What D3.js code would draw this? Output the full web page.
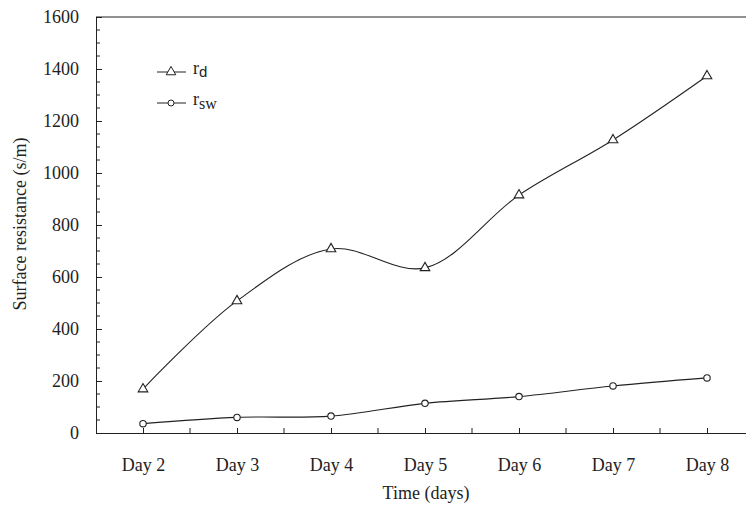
<!DOCTYPE html>
<html><head><meta charset="utf-8">
<script src="https://cdn.jsdelivr.net/npm/d3@7"></script>
<style>body{margin:0;background:#fff}svg{display:block}text{font-family:"Liberation Serif","Times New Roman",serif;fill:#222}</style>
</head><body><svg id="c" width="746" height="505"></svg>
<script>
const days = ["Day 2","Day 3","Day 4","Day 5","Day 6","Day 7","Day 8"];
const rd = [169, 508, 708, 635, 915, 1127, 1373];
const rsw = [36, 60, 65, 114, 140, 181, 212];
const yTicks = [0,200,400,600,800,1000,1200,1400,1600];

const svg = d3.select("#c");
const L=96, R=754, T=17, B=433;
const x = d3.scalePoint().domain(days).range([L,R]).padding(0.5);
const y = d3.scaleLinear().domain([0,1600]).range([B,T]);
const ink="#222";

svg.append("line").attr("x1",L).attr("x2",R).attr("y1",T).attr("y2",T).attr("stroke",ink).attr("stroke-width",1);
const ya = svg.append("g").attr("transform",`translate(${L},0)`)
  .call(d3.axisLeft(y).tickValues(yTicks).tickFormat(d3.format("d")).tickSize(-6).tickPadding(17));
ya.select(".domain").attr("stroke",ink);
ya.selectAll(".tick line").attr("stroke",ink);
ya.selectAll("text").style("font-size","18px").attr("fill",ink);
const minorY = d3.range(50,1600,50).filter(v=>v%200!==0);
svg.append("g").selectAll("line").data(minorY).join("line")
  .attr("x1",L).attr("x2",L+4).attr("y1",d=>y(d)).attr("y2",d=>y(d)).attr("stroke",ink);
const xa = svg.append("g").attr("transform",`translate(0,${B})`)
  .call(d3.axisBottom(x).tickSize(-5).tickPadding(25).tickSizeOuter(0));
xa.select(".domain").attr("stroke",ink);
xa.selectAll(".tick line").attr("stroke",ink);
xa.selectAll("text").style("font-size","18px").attr("fill",ink);
const step = x.step();
svg.append("g").selectAll("line").data(days.slice(0,-1)).join("line")
  .attr("x1",d=>x(d)+step/2).attr("x2",d=>x(d)+step/2).attr("y1",B).attr("y2",B-5).attr("stroke",ink);

svg.append("text").attr("x",426).attr("y",499).attr("text-anchor","middle").style("font-size","18px").text("Time (days)");
svg.append("text").attr("transform","translate(26,224) rotate(-90)").attr("text-anchor","middle").style("font-size","18px").text("Surface resistance (s/m)");

const line = d3.line().x((d,i)=>x(days[i])).y(d=>y(d)).curve(d3.curveCatmullRom.alpha(0.5));
svg.append("path").attr("d",line(rd)).attr("fill","none").attr("stroke",ink).attr("stroke-width",1.1);
svg.append("path").attr("d",line(rsw)).attr("fill","none").attr("stroke",ink).attr("stroke-width",1.1);

const tri = d3.symbol().type(d3.symbolTriangle).size(40);
svg.append("g").selectAll("path").data(rd).join("path")
  .attr("d",tri).attr("transform",(d,i)=>`translate(${x(days[i])},${y(d)})`)
  .attr("fill","#fff").attr("stroke",ink).attr("stroke-width",1.1);
svg.append("g").selectAll("circle").data(rsw).join("circle")
  .attr("cx",(d,i)=>x(days[i])).attr("cy",d=>y(d)).attr("r",3.2)
  .attr("fill","#fff").attr("stroke",ink).attr("stroke-width",1.1);

const lg = svg.append("g");
lg.append("line").attr("x1",157).attr("x2",186).attr("y1",72).attr("y2",72).attr("stroke",ink);
lg.append("path").attr("d",tri).attr("transform","translate(171,72)").attr("fill","#fff").attr("stroke",ink);
const t1 = lg.append("text").attr("x",193).attr("y",74).style("font-size","18px");
t1.append("tspan").text("r");
t1.append("tspan").attr("dy",3).style("font-size","15px").style("font-family","Liberation Sans, Arial, sans-serif").text("d");
lg.append("line").attr("x1",157).attr("x2",186).attr("y1",103).attr("y2",103).attr("stroke",ink);
lg.append("circle").attr("cx",171).attr("cy",103).attr("r",3).attr("fill","#fff").attr("stroke",ink);
const t2 = lg.append("text").attr("x",193).attr("y",105).style("font-size","18px");
t2.append("tspan").text("r");
t2.append("tspan").attr("dy",4).style("font-size","16px").text("sw");
</script></body></html>
